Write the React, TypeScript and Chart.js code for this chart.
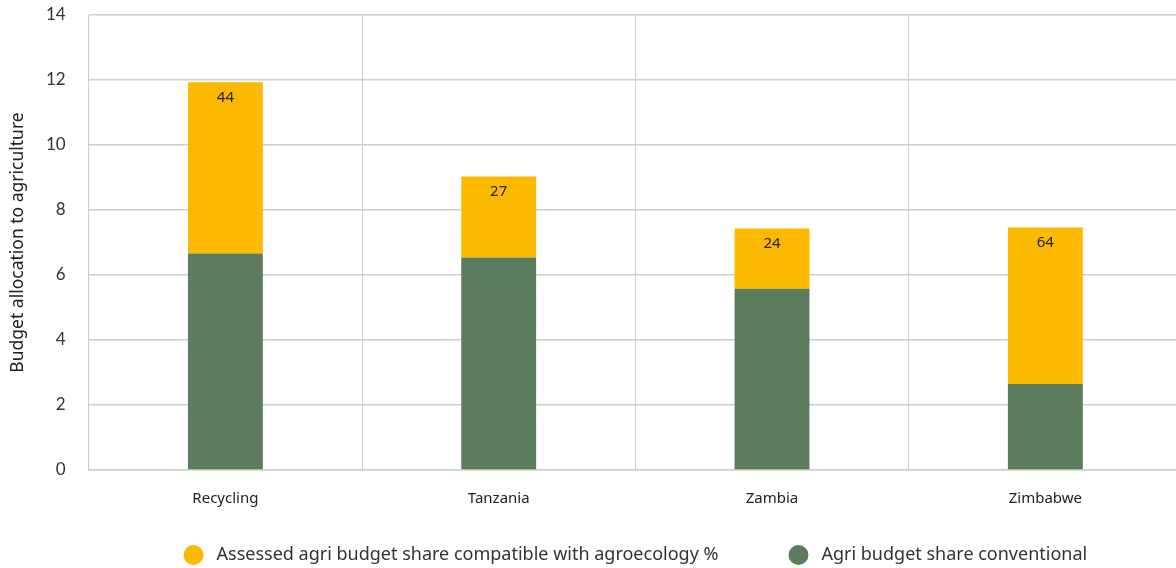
import React, { useEffect, useRef } from "react";
import { Chart, registerables } from "chart.js";

Chart.register(...registerables);

const categories = ["Recycling", "Tanzania", "Zambia", "Zimbabwe"];
const conventionalValues = [6.66, 6.54, 5.58, 2.65];
const agroecologyValues = [5.27, 2.49, 1.85, 4.81];
const agroecologyPercent = [44, 27, 24, 64];
const yTicks = [0, 2, 4, 6, 8, 10, 12, 14];
const legendLabels = [
  "Assessed agri budget share compatible with agroecology %",
  "Agri budget share conventional",
];

const YELLOW = "#FBB900";
const GREEN = "#5C7C5E";
const GRID = "#c5d3c8";
const CLEAR = "rgba(0,0,0,0)";
const legendColors = [YELLOW, GREEN];

const barLabelPlugin = {
  id: "barLabels",
  afterDatasetsDraw(chart: any) {
    const ctx = chart.ctx;
    const meta = chart.getDatasetMeta(1);
    ctx.save();
    ctx.font = "15px 'Noto Sans', sans-serif";
    ctx.fillStyle = "#222";
    ctx.textAlign = "center";
    ctx.textBaseline = "middle";
    meta.data.forEach((bar: any, i: number) => {
      ctx.fillText(String(agroecologyPercent[i]), bar.x, bar.y + 15);
    });
    ctx.restore();
  },
};

const legendPlugin = {
  id: "customLegend",
  afterDraw(chart: any) {
    const ctx = chart.ctx;
    const area = chart.chartArea;
    ctx.save();
    ctx.font = "18px 'Noto Sans', sans-serif";
    const r = 10;
    const gapText = 13;
    const gapItem = 70;
    const widths = legendLabels.map((t) => 2 * r + gapText + ctx.measureText(t).width);
    const total = widths.reduce((a, b) => a + b, 0) + gapItem * (widths.length - 1);
    let x = (area.left + area.right) / 2 - total / 2;
    const y = chart.height - 13;
    legendLabels.forEach((t, i) => {
      ctx.fillStyle = legendColors[i];
      ctx.beginPath();
      ctx.arc(x + r, y, r, 0, Math.PI * 2);
      ctx.fill();
      ctx.fillStyle = "#333";
      ctx.textAlign = "left";
      ctx.textBaseline = "middle";
      ctx.fillText(t, x + 2 * r + gapText, y);
      x += widths[i] + gapItem;
    });
    ctx.restore();
  },
};

export default function App() {
  const ref = useRef<HTMLCanvasElement | null>(null);
  useEffect(() => {
    if (!ref.current) return;
    const chart = new Chart(ref.current, {
      type: "bar",
      data: {
        labels: categories,
        datasets: [
          {
            label: legendLabels[1],
            data: conventionalValues,
            backgroundColor: GREEN,
            categoryPercentage: 1,
            barPercentage: 0.274,
          },
          {
            label: legendLabels[0],
            data: agroecologyValues,
            backgroundColor: YELLOW,
            categoryPercentage: 1,
            barPercentage: 0.274,
          },
        ],
      },
      options: {
        animation: false,
        responsive: true,
        maintainAspectRatio: false,
        layout: { padding: { left: 0, right: 89, top: 15, bottom: 58 } },
        plugins: {
          tooltip: { enabled: false },
          legend: { display: false },
        },
        scales: {
          x: {
            stacked: true,
            grid: {
              color: GRID,
              offset: true,
              drawTicks: true,
              tickLength: 18,
              tickColor: CLEAR,
              lineWidth: 1,
            },
            border: { color: GRID, width: 1.5 },
            ticks: {
              color: "#222",
              padding: 2,
              font: { family: "'Noto Sans', sans-serif", size: 15 },
            },
          },
          y: {
            stacked: true,
            min: 0,
            max: 14,
            afterBuildTicks(scale: any) {
              scale.ticks = yTicks.map((v) => ({ value: v }));
            },
            grid: {
              color: GRID,
              drawTicks: true,
              tickLength: 21,
              tickColor: CLEAR,
              lineWidth: 1.5,
            },
            border: { color: GRID, width: 1 },
            ticks: {
              color: "#333",
              padding: 2,
              font: { family: "Lato, sans-serif", size: 17 },
            },
            title: {
              display: true,
              text: "Budget allocation to agriculture",
              color: "#222",
              padding: { top: 8, bottom: 15 },
              font: { family: "'Noto Sans', sans-serif", size: 17.5 },
            },
          },
        },
      },
      plugins: [barLabelPlugin, legendPlugin],
    });
    return () => chart.destroy();
  }, []);
  return (
    <div
      style={{
        position: "fixed",
        left: 0,
        top: 0,
        width: 1176,
        height: 568,
        overflow: "hidden",
        background: "#fff",
      }}
    >
      <div style={{ position: "relative", width: 1271, height: 568 }}>
        <canvas ref={ref} />
      </div>
    </div>
  );
}
